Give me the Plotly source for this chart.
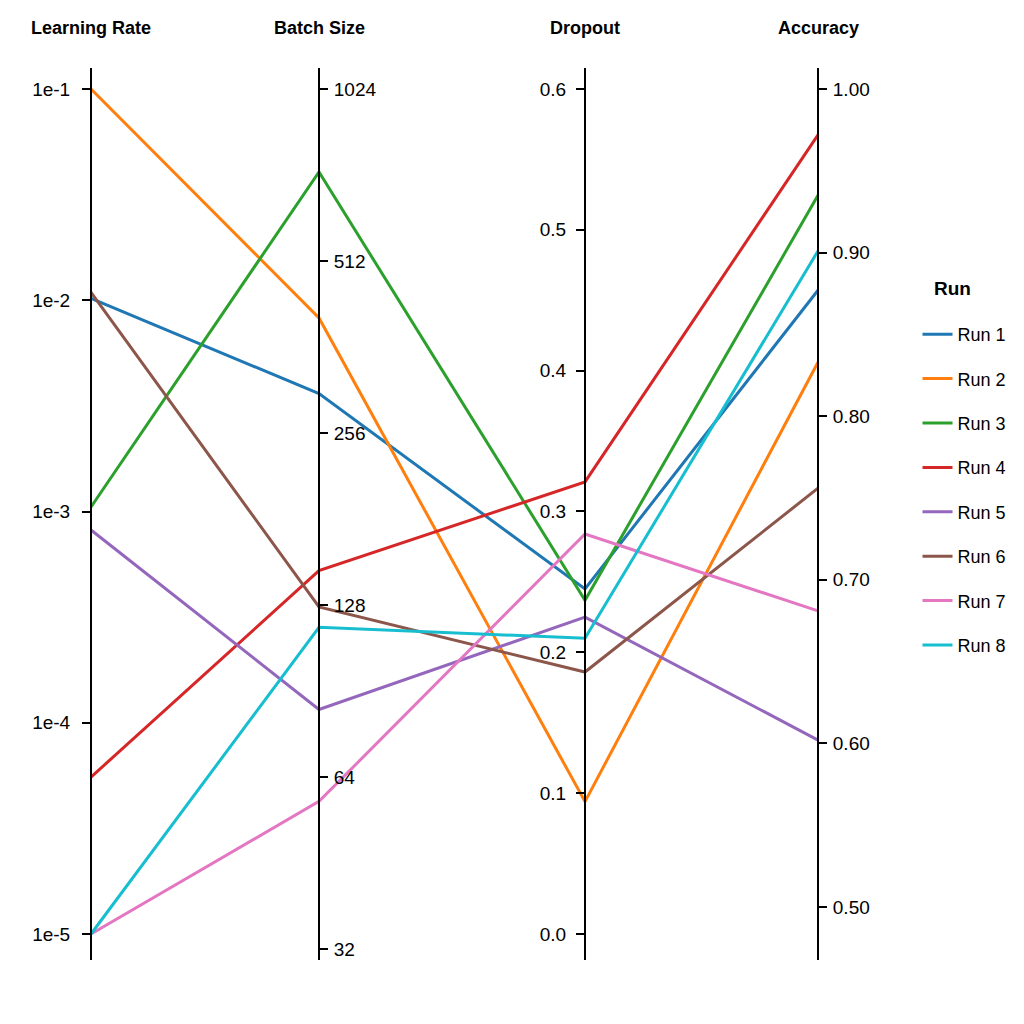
import math
import plotly.graph_objects as go

# ---------------- data ----------------
dimensions = ["Learning Rate", "Batch Size", "Dropout", "Accuracy"]
runs = ["Run 1", "Run 2", "Run 3", "Run 4", "Run 5", "Run 6", "Run 7", "Run 8"]
learning_rate = [0.0102, 0.1, 0.00105, 0.0000553, 0.000817, 0.0109, 0.00001, 0.00001]
batch_size = [300, 407, 733, 147, 84, 127, 58, 117]
dropout = [0.245, 0.094, 0.237, 0.321, 0.225, 0.186, 0.284, 0.21]
accuracy = [0.877, 0.833, 0.935, 0.972, 0.602, 0.756, 0.681, 0.901]

lr_ticks = [1e-5, 1e-4, 1e-3, 1e-2, 1e-1]
lr_labels = ["1e-5", "1e-4", "1e-3", "1e-2", "1e-1"]
bs_ticks = [32, 64, 128, 256, 512, 1024]
bs_labels = ["32", "64", "128", "256", "512", "1024"]
dr_ticks = [0.0, 0.1, 0.2, 0.3, 0.4, 0.5, 0.6]
acc_ticks = [0.5, 0.6, 0.7, 0.8, 0.9, 1.0]

colors = ["#1f77b4", "#ff7f0e", "#2ca02c", "#d62728",
          "#9467bd", "#8c564b", "#e377c2", "#17becf"]

# ---------------- layout config ----------------
FONT = "Liberation Sans, Arial, sans-serif"
axis_pos = [91 / 1024, 319 / 1024, 585 / 1024, 818 / 1024]
axis_side = ["left", "right", "left", "right"]
label_standoff = [8, 2, 6, 2]
y_domain = [1 - 960 / 1024, 1 - 68 / 1024]

# axis ranges in axis units (log10 for log axes)
axes_cfg = [
    dict(type="log", range=[-5.1231, -0.9006], tickvals=lr_ticks, ticktext=lr_labels),
    dict(type="log", range=[4.936 * math.log10(2), 10.122 * math.log10(2)],
         tickvals=bs_ticks, ticktext=bs_labels),
    dict(type="linear", range=[-0.01846, 0.6149], tickvals=dr_ticks, tickformat=".1f"),
    dict(type="linear", range=[0.4676, 1.01284], tickvals=acc_ticks, tickformat=".2f"),
]
columns = [learning_rate, batch_size, dropout, accuracy]


def normalize(v, cfg):
    lo, hi = cfg["range"]
    t = math.log10(v) if cfg["type"] == "log" else v
    return (t - lo) / (hi - lo)


fig = go.Figure()

for i, run in enumerate(runs):
    ys = [normalize(columns[d][i], axes_cfg[d]) for d in range(len(dimensions))]
    fig.add_trace(go.Scatter(
        x=axis_pos, y=ys, mode="lines", name=run,
        line=dict(color=colors[i], width=3),
        legendgroup=run, xaxis="x", yaxis="y",
    ))

layout = dict(
    width=1024, height=1024,
    margin=dict(l=0, r=0, t=0, b=0),
    paper_bgcolor="white", plot_bgcolor="white",
    font=dict(family=FONT, size=18, color="black"),
    xaxis=dict(range=[0, 1], domain=[0, 1], visible=False, fixedrange=True),
    yaxis=dict(range=[0, 1], domain=y_domain, visible=False, fixedrange=True),
    showlegend=True,
    legend=dict(
        x=0.896, y=1 - 316 / 1024, xanchor="left", yanchor="top",
        font=dict(size=18), tracegroupgap=18, bgcolor="rgba(0,0,0,0)",
    ),
)

annotations = []
for d, name in enumerate(dimensions):
    cfg = axes_cfg[d]
    key = "yaxis%d" % (d + 2)
    ax = dict(
        overlaying="y", anchor="free", position=axis_pos[d], side=axis_side[d],
        domain=y_domain, type=cfg["type"], range=cfg["range"],
        tickvals=cfg["tickvals"], showline=True, linecolor="black", linewidth=2,
        ticks="outside", ticklen=8, tickwidth=2, tickcolor="black",
        ticklabelstandoff=label_standoff[d],
        showgrid=False, zeroline=False, fixedrange=True, automargin=False,
        tickfont=dict(size=19, family=FONT, color="black"),
    )
    if "ticktext" in cfg:
        ax["ticktext"] = cfg["ticktext"]
    if "tickformat" in cfg:
        ax["tickformat"] = cfg["tickformat"]
    layout[key] = ax
    fig.add_trace(go.Scatter(x=[None], y=[None], yaxis="y%d" % (d + 2),
                             showlegend=False, hoverinfo="skip"))
    annotations.append(dict(
        text="<b>%s</b>" % name, x=axis_pos[d], y=1 - 28 / 1024,
        xref="paper", yref="paper", showarrow=False,
        xanchor="center", yanchor="middle", font=dict(size=18, family=FONT),
    ))

annotations.append(dict(
    text="<b>Run</b>", x=952 / 1024, y=1 - 288 / 1024, xref="paper", yref="paper",
    showarrow=False, xanchor="center", yanchor="middle", font=dict(size=19, family=FONT),
))

layout["annotations"] = annotations
fig.update_layout(**layout)
fig.write_html("out.html")
